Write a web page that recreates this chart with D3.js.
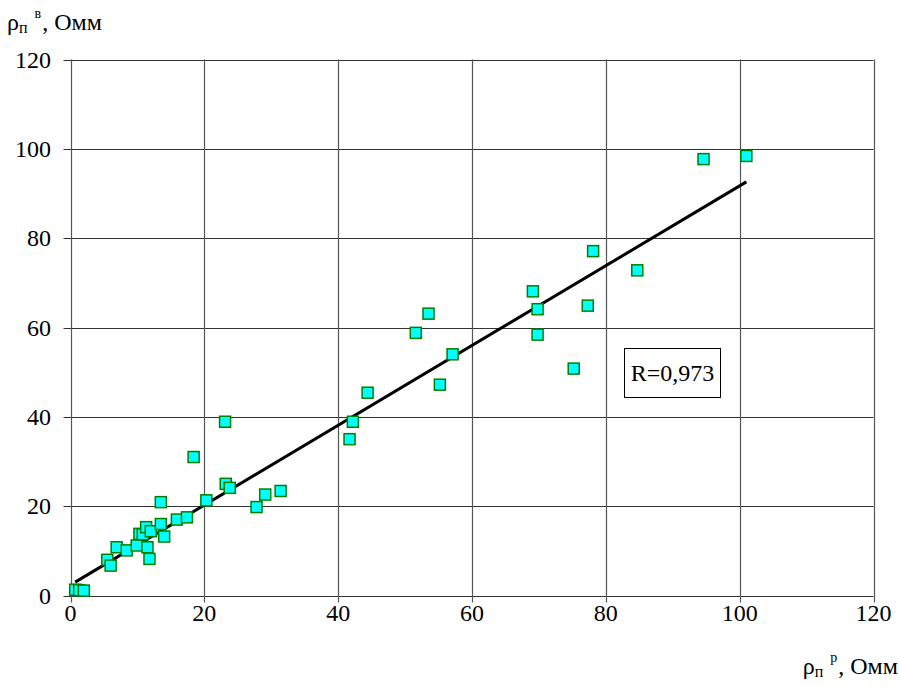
<!DOCTYPE html>
<html>
<head>
<meta charset="utf-8">
<script src="https://cdn.jsdelivr.net/npm/d3@7"></script>
<style>
  html, body { margin: 0; padding: 0; background: #fff; }
  svg, svg text, svg tspan { font-family: "Liberation Serif", "Times New Roman", serif; fill: #000; }
</style>
</head>
<body>
<svg id="chart" width="899" height="686"></svg>
<script>
// Data
const xValues = [0.7, 1.3, 2.0, 5.5, 6.0, 6.9, 8.4, 9.9, 10.3, 10.8, 11.3, 11.5, 11.8, 12.0,
  13.5, 13.5, 14.0, 15.9, 17.4, 18.4, 20.3, 23.1, 23.2, 23.8, 27.8, 29.1, 31.4,
  41.7, 42.2, 44.4, 51.6, 53.5, 55.2, 57.1, 69.1, 69.8, 69.8, 75.2, 77.3, 78.1, 84.7, 94.6, 101.0];
const yValues = [1.3, 1.2, 1.1, 8.0, 6.7, 10.8, 10.1, 11.2, 13.8, 13.7, 15.3, 10.8, 8.2, 14.4,
  20.9, 16.0, 13.2, 17.0, 17.5, 31.0, 21.3, 38.9, 25.0, 24.1, 19.8, 22.6, 23.4,
  35.0, 38.9, 45.4, 58.8, 63.1, 47.2, 54.0, 68.1, 64.1, 58.4, 50.8, 64.9, 77.1, 72.8, 97.7, 98.4];
const trendX = [0.7, 101.0];
const trendY = [3.0, 92.6];
const xTicks = [0, 20, 40, 60, 80, 100, 120];
const yTicks = [0, 20, 40, 60, 80, 100, 120];
const rLabel = "R=0,973";

const FONT = "Liberation Serif";
const svg = d3.select("#chart").style("font-family", FONT);
const plotL = 70.5, plotR = 873.5, plotT = 59.5, plotB = 595.5;

const x = d3.scaleLinear().domain([0, 120]).range([plotL, plotR]);
const y = d3.scaleLinear().domain([0, 120]).range([plotB, plotT]);

// Gridlines
const grid = svg.append("g");
grid.selectAll("line.h").data(yTicks).join("line").attr("class", "h")
  .attr("x1", plotL - 7).attr("x2", plotR)
  .attr("y1", d => Math.round(y(d)) + 0.5).attr("y2", d => Math.round(y(d)) + 0.5)
  .attr("stroke", "#333").attr("stroke-width", 1);
grid.selectAll("line.v").data(xTicks).join("line").attr("class", "v")
  .attr("y1", plotT).attr("y2", plotB + 7)
  .attr("x1", d => Math.round(x(d)) + 0.5).attr("x2", d => Math.round(x(d)) + 0.5)
  .attr("stroke", "#555").attr("stroke-width", 1.2);

// Tick labels
svg.append("g").selectAll("text").data(yTicks).join("text")
  .style("font-family", FONT)
  .attr("x", 51).attr("y", d => y(d))
  .attr("dy", "0.34em")
  .attr("text-anchor", "end")
  .attr("font-size", 24)
  .text(d => d);
svg.append("g").selectAll("text").data(xTicks).join("text")
  .style("font-family", FONT)
  .attr("x", d => x(d)).attr("y", 621)
  .attr("text-anchor", "middle")
  .attr("font-size", 24)
  .text(d => d);

// Axis titles
const yt = svg.append("text").style("font-family", FONT).attr("x", 7).attr("y", 30).attr("font-size", 24);
yt.append("tspan").text("ρ");
yt.append("tspan").attr("font-size", 16).attr("dy", 3).text("п");
yt.append("tspan").attr("font-size", 14).attr("dy", -15).attr("dx", 7).text("в");
yt.append("tspan").attr("dy", 12).attr("dx", 1).text(", Омм");

const xt = svg.append("text").style("font-family", FONT).attr("x", 898).attr("y", 674).attr("font-size", 24).attr("text-anchor", "end");
xt.append("tspan").text("ρ");
xt.append("tspan").attr("font-size", 16).attr("dy", 3).text("п");
xt.append("tspan").attr("font-size", 14).attr("dy", -15).attr("dx", 7).text("р");
xt.append("tspan").attr("dy", 12).attr("dx", 1).text(", Омм");

// Trend line
svg.append("line")
  .attr("x1", x(trendX[0])).attr("y1", y(trendY[0]))
  .attr("x2", x(trendX[1])).attr("y2", y(trendY[1]))
  .attr("stroke", "#000").attr("stroke-width", 3);

// Points
const pts = xValues.map((v, i) => ({ x: v, y: yValues[i] }));
const s = 11;
svg.append("g").selectAll("rect").data(pts).join("rect")
  .attr("x", d => x(d.x) - s / 2).attr("y", d => y(d.y) - s / 2)
  .attr("width", s).attr("height", s)
  .attr("fill", "#00FFFF").attr("stroke", "#008000").attr("stroke-width", 1.5);

// R label box
svg.append("rect").attr("x", 624.5).attr("y", 348.5).attr("width", 96).attr("height", 49)
  .attr("fill", "#fff").attr("stroke", "#000").attr("stroke-width", 1);
svg.append("text").style("font-family", FONT).attr("x", 672.5).attr("y", 373).attr("dy", "0.34em")
  .attr("text-anchor", "middle").attr("font-size", 24).text(rLabel);
</script>
</body>
</html>
